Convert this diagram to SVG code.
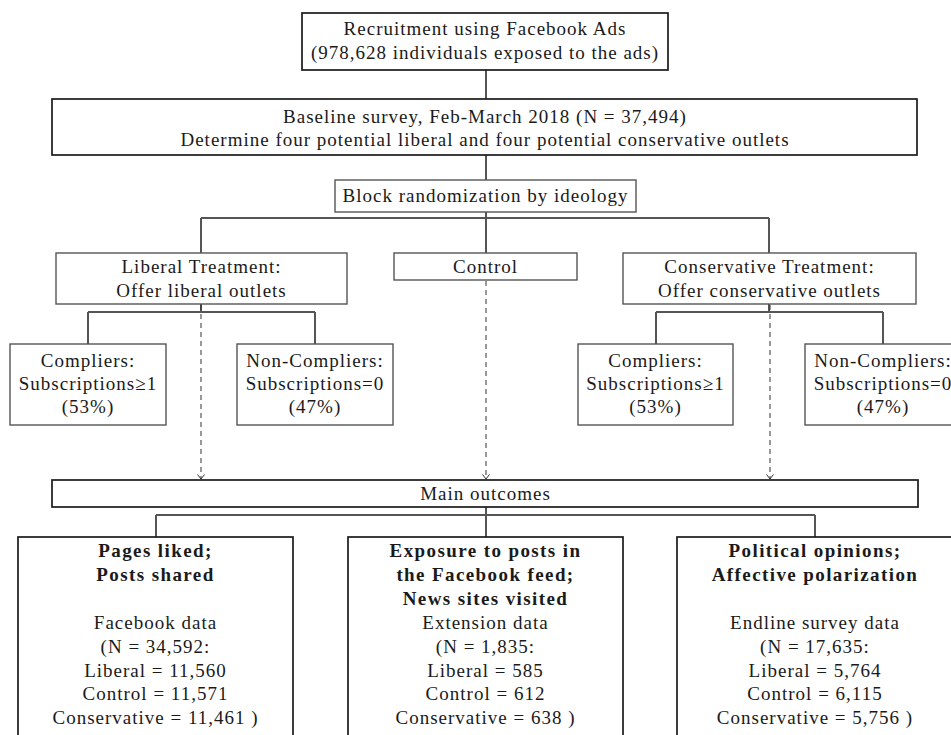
<svg xmlns="http://www.w3.org/2000/svg" width="951" height="735" viewBox="0 0 951 735" font-family="'Liberation Serif', 'Times New Roman', serif">
<defs>
<style>
.t{font-family:'Liberation Serif','Times New Roman',serif;font-size:19px;fill:#1a1a1a;text-anchor:middle;letter-spacing:1px}
.b{font-weight:bold;letter-spacing:1.4px}
.bx{fill:#fff;stroke:#1a1a1a;stroke-width:1.7}
.gx{fill:#fff;stroke:#555;stroke-width:1.4}
.c{fill:none;stroke:#555;stroke-width:2}
.d{fill:none;stroke:#333;stroke-width:1;stroke-dasharray:5 4;marker-end:url(#ah)}
</style>
<marker id="ah" viewBox="-6 -5 7 10" refX="0" refY="0" markerWidth="7" markerHeight="10" markerUnits="userSpaceOnUse" orient="auto" overflow="visible">
<path d="M-4.5,-3.5 L0,0 L-4.5,3.5" fill="none" stroke="#333" stroke-width="1"/>
</marker>
</defs>
<rect width="951" height="735" fill="#fff"/>
<g id="connectors">
<path class="c" d="M486,70 V99"/>
<path class="c" d="M486,155 V180"/>
<path class="c" d="M486,212 V253 M201,218 H769 M201,218 V253 M769,218 V253"/>
<path class="c" d="M201,304 V312 M88,312 H315 M88,312 V344 M315,312 V344"/>
<path class="c" d="M769,304 V312 M656,312 H883 M656,312 V344 M883,312 V344"/>
<path class="c" d="M486,507 V515 M156,515 H815 M156,515 V537 M486,515 V537 M815,515 V537"/>
<path class="d" d="M201,305 V479"/>
<path class="d" d="M486,281 V479"/>
<path class="d" d="M770,305 V479"/>
</g>
<g id="recruitment">
<rect class="bx" x="302" y="13" width="366" height="57"/>
<text class="t" x="485" y="35">Recruitment using Facebook Ads</text>
<text class="t" x="485" y="59">(978,628 individuals exposed to the ads)</text>
</g>
<g id="baseline">
<rect class="bx" x="52" y="99" width="865" height="56"/>
<text class="t" x="485" y="123">Baseline survey, Feb-March 2018 (N = 37,494)</text>
<text class="t" x="485" y="146">Determine four potential liberal and four potential conservative outlets</text>
</g>
<g id="block">
<rect class="gx" x="335" y="180" width="301" height="32"/>
<text class="t" x="485.5" y="202">Block randomization by ideology</text>
</g>
<g id="liberal">
<rect class="gx" x="56" y="253" width="291" height="51"/>
<text class="t" x="201.5" y="273">Liberal Treatment:</text>
<text class="t" x="201.5" y="297">Offer liberal outlets</text>
</g>
<g id="control">
<rect class="gx" x="394" y="253" width="183" height="27"/>
<text class="t" x="485.5" y="273">Control</text>
</g>
<g id="conservative">
<rect class="gx" x="623" y="253" width="293" height="51"/>
<text class="t" x="769.5" y="273">Conservative Treatment:</text>
<text class="t" x="769.5" y="297">Offer conservative outlets</text>
</g>
<g id="lib-compliers">
<rect class="gx" x="10" y="344" width="156" height="81"/>
<text class="t" x="88" y="367">Compliers:</text>
<text class="t" x="88" y="390">Subscriptions≥1</text>
<text class="t" x="88" y="413">(53%)</text>
</g>
<g id="lib-noncompliers">
<rect class="gx" x="237" y="344" width="156" height="81"/>
<text class="t" x="315" y="367">Non-Compliers:</text>
<text class="t" x="315" y="390">Subscriptions=0</text>
<text class="t" x="315" y="413">(47%)</text>
</g>
<g id="con-compliers">
<rect class="gx" x="578" y="344" width="155" height="81"/>
<text class="t" x="655.5" y="367">Compliers:</text>
<text class="t" x="655.5" y="390">Subscriptions≥1</text>
<text class="t" x="655.5" y="413">(53%)</text>
</g>
<g id="con-noncompliers">
<rect class="gx" x="805" y="344" width="156" height="81"/>
<text class="t" x="883" y="367">Non-Compliers:</text>
<text class="t" x="883" y="390">Subscriptions=0</text>
<text class="t" x="883" y="413">(47%)</text>
</g>
<g id="main">
<rect class="bx" x="52" y="480" width="866" height="27"/>
<text class="t" x="485.5" y="500">Main outcomes</text>
</g>
<g id="facebook">
<rect class="bx" x="18" y="537" width="275" height="210"/>
<text class="t b" x="155.5" y="557">Pages liked;</text>
<text class="t b" x="155.5" y="581">Posts shared</text>
<text class="t" x="155.5" y="629">Facebook data</text>
<text class="t" x="155.5" y="653">(N = 34,592:</text>
<text class="t" x="155.5" y="677">Liberal = 11,560</text>
<text class="t" x="155.5" y="700">Control = 11,571</text>
<text class="t" x="155.5" y="724">Conservative = 11,461 )</text>
</g>
<g id="extension">
<rect class="bx" x="348" y="537" width="275" height="210"/>
<text class="t b" x="485.5" y="557">Exposure to posts in</text>
<text class="t b" x="485.5" y="581">the Facebook feed;</text>
<text class="t b" x="485.5" y="605">News sites visited</text>
<text class="t" x="485.5" y="629">Extension data</text>
<text class="t" x="485.5" y="653">(N = 1,835:</text>
<text class="t" x="485.5" y="677">Liberal = 585</text>
<text class="t" x="485.5" y="700">Control = 612</text>
<text class="t" x="485.5" y="724">Conservative = 638 )</text>
</g>
<g id="survey">
<rect class="bx" x="677" y="537" width="276" height="210"/>
<text class="t b" x="815" y="557">Political opinions;</text>
<text class="t b" x="815" y="581">Affective polarization</text>
<text class="t" x="815" y="629">Endline survey data</text>
<text class="t" x="815" y="653">(N = 17,635:</text>
<text class="t" x="815" y="677">Liberal = 5,764</text>
<text class="t" x="815" y="700">Control = 6,115</text>
<text class="t" x="815" y="724">Conservative = 5,756 )</text>
</g>
</svg>
